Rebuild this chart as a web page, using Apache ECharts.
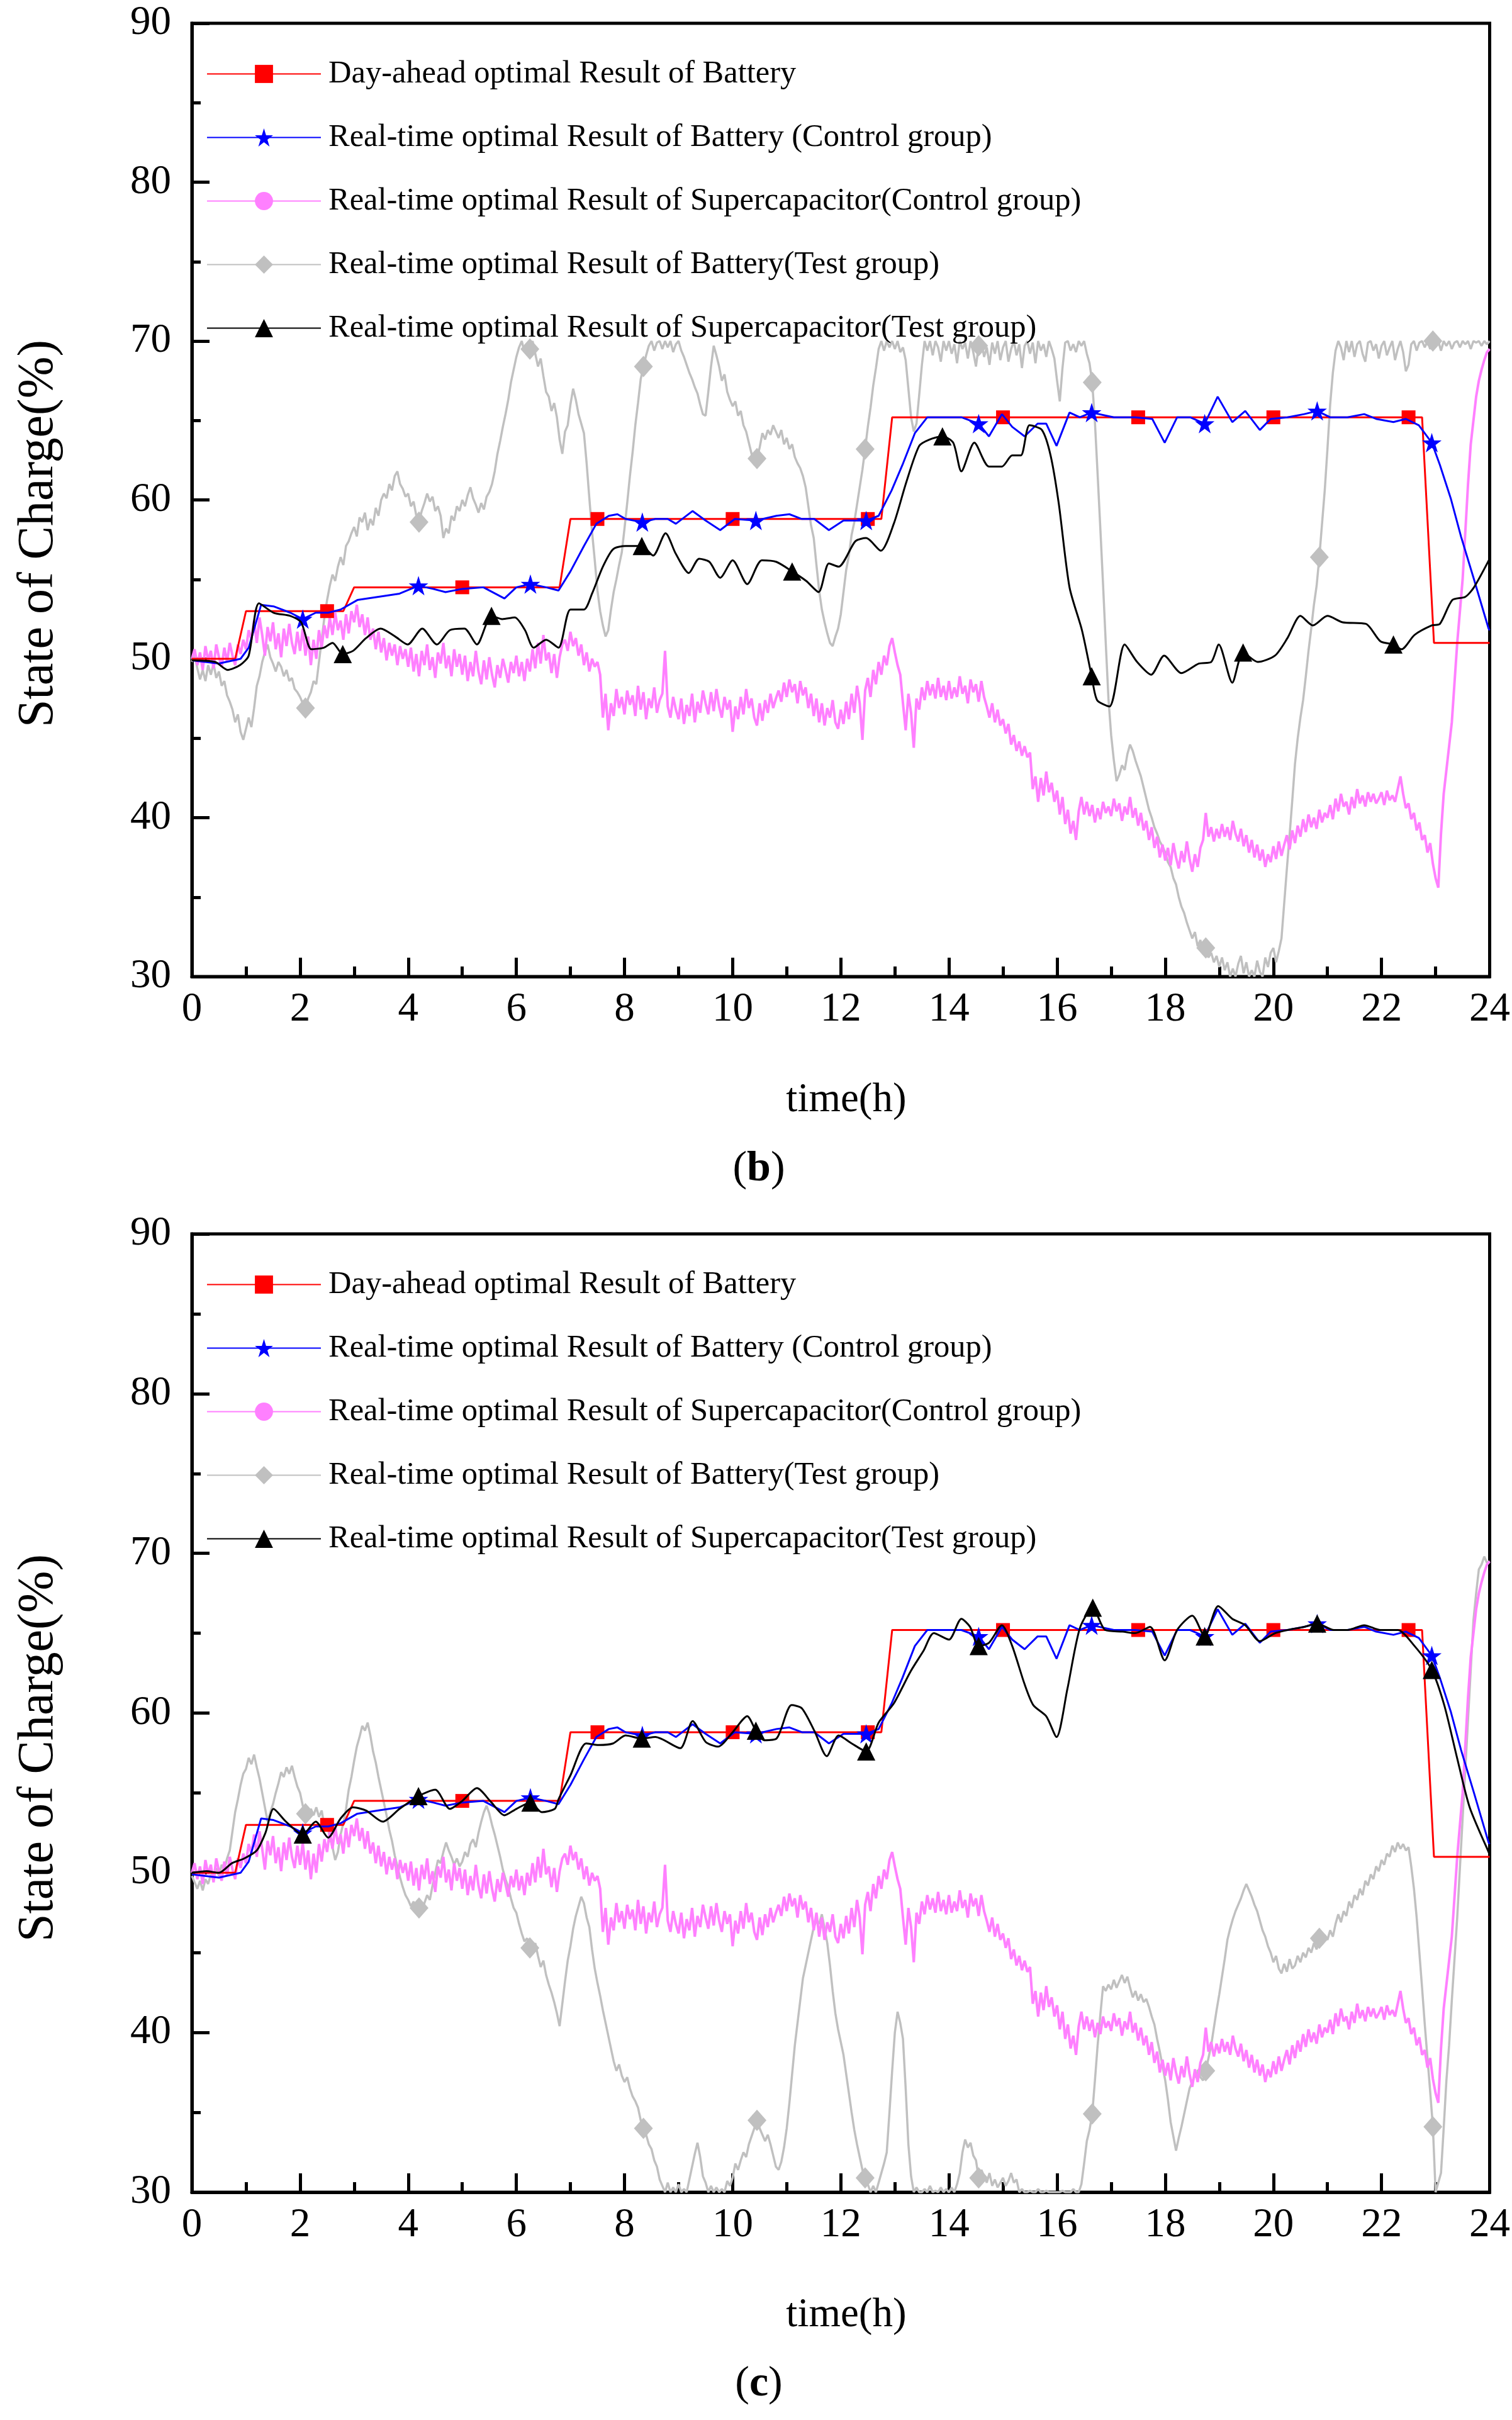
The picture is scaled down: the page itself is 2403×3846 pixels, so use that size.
<!DOCTYPE html>
<html><head><meta charset="utf-8">
<script src="https://cdn.jsdelivr.net/npm/echarts@6/dist/echarts.min.js"></script>
<style>html,body{margin:0;padding:0;background:#fff}#c{width:2403px;height:3846px}</style>
</head><body><div id="c"></div>
<script>
// ---- data ----
const STEP = 0.05; // sample step (h) of the dense series
const xTickLabels = [0,2,4,6,8,10,12,14,16,18,20,22,24];
const yTickLabels = [30,40,50,60,70,80,90];
const seriesNames = [
  'Day-ahead optimal Result of Battery',
  'Real-time optimal Result of Battery (Control group)',
  'Real-time optimal Result of Supercapacitor(Control group)',
  'Real-time optimal Result of Battery(Test group)',
  'Real-time optimal Result of Supercapacitor(Test group)'
];
const redT = [0,0.8,1.0,2.5,2.8,3.0,5,6.8,7.0,7.5,10,12.5,12.75,12.95,15,17.5,20,22.5,22.75,22.97,24];
const redV = [50,50,53,53,53,54.5,54.5,54.5,58.8,58.8,58.8,58.8,58.8,65.2,65.2,65.2,65.2,65.2,65.2,51,51];
const redMarks = [2.5,5,7.5,10,12.5,15,17.5,20,22.5];

const blueT = [0,0.5,0.9,1.05,1.28,1.51,1.82,2.05,2.29,2.52,2.75,3.06,3.45,3.84,4.19,4.46,4.69,5.0,5.39,5.78,6.0,6.26,6.55,6.78,7.0,7.25,7.48,7.71,7.87,8.02,8.33,8.57,8.8,8.95,9.26,9.5,9.77,10.04,10.43,10.81,11.05,11.28,11.51,11.78,12.05,12.47,12.7,12.94,13.14,13.37,13.6,13.84,14.23,14.55,14.74,14.98,15.17,15.4,15.64,15.8,15.99,16.23,16.42,16.64,17.05,17.44,17.76,17.99,18.22,18.46,18.73,18.97,19.24,19.48,19.75,19.95,20.26,20.57,20.81,21.05,21.37,21.68,21.9,22.22,22.45,22.69,22.93,23.08,23.28,23.47,23.71,23.98,24];
const blueV = [49.9,49.7,50.0,50.7,53.4,53.3,52.9,52.5,52.9,52.9,53.1,53.7,53.9,54.1,54.6,54.4,54.2,54.4,54.5,53.8,54.5,54.7,54.5,54.3,55.5,57.1,58.5,59.0,59.1,58.8,58.6,58.8,58.8,58.5,59.3,58.7,58.1,58.8,58.7,59.0,59.1,58.8,58.8,58.1,58.7,58.7,59.0,60.6,62.2,64.2,65.2,65.2,65.2,64.8,64.0,65.4,64.6,64.0,64.8,64.8,63.4,65.5,65.2,65.5,65.2,65.2,65.1,63.6,65.2,65.2,64.8,66.5,64.9,65.6,64.4,65.1,65.2,65.4,65.6,65.2,65.2,65.4,65.1,64.9,65.1,64.7,63.6,62.2,60.1,57.7,55.0,51.9,51.8];
const starMarks = [2.05,4.19,6.26,8.33,10.43,12.47,14.55,16.64,18.73,20.81,22.93];

const pinkV = [
50.0,50.6,49.6,50.4,49.3,50.8,49.9,50.5,49.4,50.9,50.1,49.5,50.7,49.8,51.0,50.2,49.6,50.9,50.3,51.2,
50.6,51.8,51.2,52.4,51.0,52.6,51.5,50.2,52.0,51.1,52.3,50.6,51.6,50.1,51.9,50.8,52.2,51.0,50.3,51.7,
50.5,51.9,50.2,51.4,49.6,51.2,50.0,51.8,50.7,52.1,51.3,52.6,51.5,52.9,51.8,52.4,51.2,52.8,51.6,53.0,
52.3,53.4,52.0,52.8,51.5,52.6,51.2,51.9,50.6,51.7,50.4,51.3,49.9,51.0,50.2,50.9,49.6,50.8,50.0,50.6,
49.5,50.7,49.2,50.3,48.9,50.5,49.6,50.9,49.3,50.1,48.8,50.4,49.7,51.0,49.4,50.2,48.9,50.6,49.5,50.3,
49.0,50.2,48.6,49.8,48.9,50.5,49.2,48.4,49.9,48.7,50.1,49.0,48.2,49.6,48.8,50.0,49.3,48.5,49.8,49.1,
50.2,48.9,49.8,48.6,50.0,49.2,50.6,49.4,51.0,49.7,51.5,49.9,50.4,49.1,50.3,48.8,50.1,50.9,51.2,50.5,
51.7,50.8,51.3,50.2,50.9,49.6,50.4,49.2,50.0,49.5,49.8,49.0,46.3,47.8,45.5,47.2,46.4,48.1,46.9,47.6,
46.5,48.0,47.1,47.7,46.4,48.3,46.8,47.9,46.2,47.5,46.9,48.2,46.6,47.4,47.8,50.5,47.0,46.3,47.6,46.8,
46.2,47.5,45.9,47.1,46.4,47.8,46.0,47.3,46.6,48.0,47.2,46.5,47.9,46.7,48.1,47.0,46.3,47.6,46.8,47.4,
45.4,47.0,46.2,47.6,46.5,48.1,46.9,47.5,46.3,45.8,47.2,46.1,47.4,46.6,47.8,46.9,47.5,48.0,47.3,48.5,
47.6,48.7,47.9,48.4,47.2,48.6,47.7,48.2,46.9,47.8,46.4,47.5,46.0,47.2,45.8,46.9,46.3,47.4,46.0,45.6,
46.8,45.9,47.3,46.2,47.8,46.6,48.3,47.2,44.9,48.0,48.8,47.6,49.3,48.4,49.8,49.0,50.2,49.6,50.8,51.3,
50.4,49.6,49.0,47.2,45.5,47.8,46.6,44.4,47.5,46.8,48.2,47.4,48.6,47.7,48.4,47.5,48.8,47.6,48.3,47.4,
48.6,47.5,48.2,47.6,48.9,47.8,48.3,47.2,48.7,47.9,48.4,47.3,48.6,47.6,47.0,46.3,47.2,46.0,46.8,45.8,
46.2,45.3,45.9,44.6,45.2,44.2,44.8,43.9,44.5,43.8,44.1,41.8,42.6,41.0,42.5,41.4,42.9,41.6,42.2,41.0,
41.7,40.2,41.3,39.6,40.5,39.0,39.8,38.6,40.4,41.3,40.2,41.0,40.1,40.8,39.7,40.6,39.9,41.0,40.3,40.7,
40.1,41.2,40.4,40.9,39.8,40.7,40.2,41.3,40.0,40.6,39.5,40.3,39.2,39.8,38.6,39.4,38.1,38.8,37.5,38.3,
37.3,38.1,37.0,38.4,37.5,36.8,37.9,37.2,38.5,37.4,36.6,37.7,36.9,38.1,38.6,40.3,38.8,39.4,38.5,39.3,
38.7,39.6,38.8,39.4,38.6,39.8,39.0,38.5,39.3,38.2,38.9,37.8,38.6,37.5,38.3,37.3,38.0,36.9,37.7,37.2,
38.2,37.4,38.5,37.6,38.3,38.9,38.0,39.2,38.4,39.5,38.8,39.9,39.1,40.2,39.4,40.0,39.3,40.5,39.7,40.3,
40.0,40.8,39.9,41.2,40.4,41.5,40.7,41.0,40.2,41.3,40.6,41.8,40.9,41.4,40.7,41.6,41.0,41.5,40.9,41.2,
41.6,40.8,41.7,41.1,41.4,41.0,41.8,42.6,41.5,40.6,40.9,39.9,40.3,39.2,39.7,38.6,38.9,37.8,38.4,37.1,
36.2,35.6,39.0,41.5,43.0,44.5,46.0,48.5,51.0,53.0,55.0,58.0,61.0,63.5,65.0,66.5,67.5,68.2,68.8,69.3,
69.5];

const greyBV = [
49.8,50.3,49.4,48.7,49.3,48.6,49.6,49.0,49.7,48.8,49.2,48.3,48.6,47.7,47.3,46.8,46.0,46.5,45.4,44.9,
45.6,46.3,45.7,46.9,48.3,48.9,49.8,50.4,50.9,50.1,49.7,49.2,49.8,49.5,48.9,49.3,48.6,48.8,48.1,47.9,
47.6,47.2,46.9,47.5,47.9,48.6,48.4,49.8,51.2,52.6,53.7,54.6,55.3,54.9,55.8,56.4,55.9,57.1,57.4,57.9,
58.3,57.7,58.9,58.6,59.2,58.1,58.8,58.4,59.5,59.0,60.0,60.4,60.1,61.0,60.6,61.5,61.8,61.0,60.7,60.2,
60.4,59.6,59.9,59.0,58.6,59.3,59.8,60.4,59.9,60.2,59.3,59.6,59.0,57.6,58.2,57.9,59.0,58.7,59.6,59.3,
60.0,59.6,60.3,60.8,60.1,59.7,59.2,59.8,59.4,60.2,60.5,61.0,61.8,62.9,63.7,64.6,65.4,66.3,67.4,68.2,
69.0,69.6,70.0,69.3,69.8,69.5,70.0,69.2,68.4,68.9,67.8,66.8,66.5,65.6,66.1,65.2,63.8,62.9,64.3,64.7,
66.0,67.0,66.3,65.4,64.8,64.2,62.3,60.1,58.0,56.2,54.3,53.0,52.1,51.4,51.8,53.1,54.2,55.0,55.9,56.7,
58.2,59.8,61.5,63.0,64.7,66.1,67.6,68.4,69.1,69.7,70.0,69.4,69.9,70.0,69.5,70.0,69.6,70.0,69.3,69.8,
70.0,69.4,69.0,68.5,68.0,67.6,67.1,66.7,66.0,65.4,65.3,66.8,68.4,69.7,69.1,68.4,67.5,67.9,66.8,66.3,
65.9,66.2,65.3,65.6,64.7,64.3,63.6,62.9,62.2,62.6,63.3,64.2,63.8,64.4,64.1,64.7,64.3,63.9,64.4,63.5,
63.9,63.2,63.5,62.7,62.3,62.0,61.5,60.8,59.6,58.4,57.6,55.9,54.3,53.1,52.3,51.6,51.0,50.8,51.4,51.9,
52.8,54.2,55.6,56.5,57.8,58.6,59.7,60.8,61.9,63.2,64.6,65.8,67.2,68.3,69.5,70.0,69.4,70.0,69.6,70.0,
69.5,70.0,69.3,69.6,68.8,67.0,65.2,64.3,64.8,66.6,68.5,70.0,69.4,70.0,69.1,70.0,69.6,68.7,70.0,69.4,
70.0,69.2,69.8,68.6,70.0,69.5,69.9,68.9,70.0,69.3,68.4,69.7,70.0,69.0,69.6,68.5,69.9,69.2,70.0,68.8,
69.6,70.0,68.7,69.5,70.0,69.1,69.8,68.3,69.7,70.0,69.2,69.9,68.6,70.0,69.4,69.8,69.0,70.0,69.5,68.9,
67.5,66.2,68.3,69.9,70.0,69.4,69.8,69.3,70.0,69.7,70.0,69.2,68.6,67.4,64.9,61.6,58.2,54.7,51.0,47.5,
45.2,43.6,42.3,42.7,43.3,43.0,44.0,44.6,44.2,43.6,43.1,42.6,41.9,41.2,40.5,40.0,39.4,39.0,38.5,38.2,
37.8,37.2,36.9,36.2,35.8,35.0,34.4,34.0,33.4,32.9,32.4,32.8,31.9,32.3,31.4,31.8,31.2,31.5,30.9,31.3,
30.6,31.2,30.4,30.9,30.0,30.5,30.0,30.8,31.3,30.2,30.9,30.0,30.4,30.0,31.0,30.3,30.0,31.2,30.6,31.5,
31.8,30.9,31.6,32.4,34.6,36.8,38.9,41.1,43.4,45.0,46.3,47.4,48.9,50.5,51.9,53.4,54.6,56.4,58.5,60.6,
63.2,66.0,68.0,69.4,70.0,69.6,68.8,70.0,69.3,70.0,69.0,69.8,70.0,69.2,68.7,69.9,70.0,69.4,69.8,68.9,
69.7,70.0,69.1,69.6,70.0,68.8,69.5,70.0,69.3,68.1,68.5,69.8,70.0,69.4,69.9,70.0,69.6,70.0,69.5,70.0,
69.8,70.0,69.4,70.0,69.7,70.0,69.5,69.9,70.0,69.6,70.0,69.8,70.0,69.5,70.0,69.9,70.0,69.7,70.0,69.8,
70.0];

const greyCV = [
49.8,49.4,49.0,49.5,48.9,49.6,49.3,49.9,49.5,50.3,49.8,50.5,50.2,50.9,51.4,52.6,53.8,54.6,55.5,56.2,
56.5,57.2,56.8,57.4,56.6,55.9,55.0,54.1,53.2,53.8,54.3,55.0,55.6,56.3,56.0,56.6,56.2,56.7,56.0,55.4,
55.0,54.2,53.7,53.4,54.0,53.6,54.1,53.5,53.9,52.9,53.1,52.2,51.6,50.8,51.3,52.4,53.1,54.0,55.2,56.0,
57.0,57.9,58.5,59.2,58.9,59.4,58.6,57.6,56.9,56.0,55.2,54.4,53.6,52.7,52.0,51.1,50.4,49.7,49.1,48.6,
48.3,47.9,48.2,47.6,47.8,47.5,48.1,48.6,48.3,49.2,50.0,50.8,50.6,51.3,51.9,51.4,51.0,50.5,50.9,50.4,
50.7,51.3,51.0,51.8,52.1,51.6,52.5,53.2,53.8,54.2,53.7,53.0,52.4,51.7,51.0,50.2,49.6,49.1,48.4,47.8,
47.5,46.8,46.2,45.7,45.9,45.3,45.0,45.6,44.8,44.1,44.5,43.6,43.0,42.5,41.9,41.2,40.4,41.8,43.2,44.5,
45.4,46.5,47.3,47.9,48.5,48.1,47.2,46.6,45.2,44.0,43.1,42.3,41.4,40.6,39.8,39.0,38.2,37.6,38.0,37.3,
36.9,37.2,36.5,36.0,35.7,35.3,34.5,34.0,33.6,33.0,32.7,32.0,31.6,30.8,30.4,30.0,30.6,30.0,30.3,30.0,
30.5,30.0,30.2,30.0,30.8,31.6,32.4,33.1,32.2,31.0,30.6,30.0,30.4,30.0,30.3,30.0,30.2,30.0,30.7,30.4,
30.9,31.8,31.4,32.0,32.5,32.2,33.0,33.5,34.0,34.5,34.0,33.6,33.2,33.6,33.0,32.3,31.6,31.4,31.9,32.8,
34.0,35.6,37.4,39.2,40.6,42.0,43.4,44.2,45.0,45.8,46.6,47.0,46.8,47.4,46.5,45.6,44.2,42.6,41.2,40.2,
39.4,38.6,37.4,36.2,35.0,33.9,33.0,32.2,31.4,30.9,30.5,30.0,30.4,30.0,30.6,31.2,31.8,32.5,35.0,37.6,
40.0,41.3,40.6,39.6,36.5,33.0,31.0,30.0,30.3,30.0,30.0,30.2,30.0,30.4,30.0,30.1,30.0,30.3,30.0,30.2,
30.0,30.3,30.0,30.5,31.2,32.5,33.3,32.8,33.1,32.3,32.0,30.9,31.4,31.0,30.6,31.2,30.4,30.8,30.3,30.6,
30.9,30.4,30.7,31.2,30.6,30.8,30.0,30.2,30.0,30.0,30.1,30.0,30.0,30.2,30.0,30.0,30.1,30.0,30.0,30.0,
30.0,30.0,30.1,30.0,30.0,30.0,30.2,30.0,30.0,30.5,31.8,33.2,33.9,34.9,37.0,39.2,41.1,42.9,42.6,43.0,
42.7,43.3,42.8,43.2,43.6,43.1,43.5,42.8,42.2,42.6,42.0,42.4,41.9,42.1,41.6,41.0,40.5,39.6,38.8,37.9,
37.0,35.8,34.4,33.5,32.6,33.4,34.1,34.9,35.7,36.5,36.9,37.3,37.5,37.2,37.0,37.6,38.4,39.2,40.3,41.4,
42.4,43.5,44.6,45.8,46.5,47.1,47.6,48.0,48.4,48.9,49.3,48.9,48.5,48.0,47.6,47.0,46.4,46.0,45.4,45.0,
44.4,44.8,44.0,43.7,44.3,43.8,44.6,44.0,44.2,44.8,44.4,45.0,44.7,45.3,45.0,45.6,45.2,45.9,45.5,46.1,
45.8,46.4,46.0,46.8,47.4,46.9,47.6,47.3,48.2,47.8,48.6,48.3,49.0,48.6,49.5,49.2,49.9,49.6,50.4,50.1,
50.8,50.5,51.2,51.0,51.7,51.3,51.9,51.5,51.8,51.4,51.6,50.4,49.0,47.2,45.0,42.8,40.5,38.4,36.3,34.1,
30.0,30.6,31.2,34.0,37.0,39.2,42.0,44.6,47.2,50.3,53.4,56.5,59.6,62.7,65.8,67.5,69.0,69.3,69.8,69.4,
69.5];
const diamondMarks = [2.1,4.2,6.25,8.35,10.45,12.45,14.55,16.65,18.75,20.85,22.95];

const blackBT = [0,0.43,0.66,0.89,1.05,1.24,1.51,1.82,2.02,2.21,2.44,2.6,2.79,2.98,3.22,3.49,3.76,3.99,4.26,4.53,4.77,5.04,5.27,5.54,5.74,5.97,6.16,6.32,6.55,6.78,7.0,7.25,7.4,7.6,7.79,8.02,8.32,8.53,8.76,8.95,9.19,9.38,9.57,9.77,10.0,10.27,10.54,10.81,11.1,11.36,11.59,11.78,11.96,12.27,12.47,12.74,12.98,13.21,13.45,13.64,13.88,14.08,14.23,14.47,14.74,14.98,15.17,15.33,15.49,15.72,15.88,16.03,16.23,16.46,16.64,16.74,16.97,17.25,17.48,17.74,17.98,18.3,18.62,18.85,18.99,19.24,19.44,19.71,20.03,20.26,20.5,20.73,21.0,21.28,21.71,21.98,22.22,22.37,22.61,22.93,23.08,23.31,23.55,23.71,24.0];
const blackBV = [49.9,49.8,49.3,49.6,50.2,53.5,52.9,52.7,52.3,50.6,50.7,51.0,50.3,50.5,51.3,51.9,51.4,50.9,51.9,50.9,51.8,51.9,50.9,52.7,52.5,52.6,51.8,50.7,51.2,50.7,53.1,53.1,54.1,55.8,56.9,57.1,57.1,56.5,57.9,56.6,55.4,56.3,56.1,55.1,56.2,54.7,56.2,56.1,55.5,54.9,54.2,56.0,55.8,57.4,57.6,56.8,58.5,61.1,63.4,63.8,64.0,63.6,61.8,63.6,62.1,62.1,62.8,62.8,64.7,64.4,62.8,59.8,54.5,51.8,48.9,47.4,47.0,50.9,49.8,49.0,50.2,49.1,49.7,49.8,50.9,48.5,50.4,49.8,50.2,51.3,52.7,52.1,52.7,52.3,52.2,51.1,50.9,50.6,51.5,52.1,52.2,53.7,53.9,54.5,56.3];
const triMarksB = [2.79,5.54,8.32,11.1,13.88,16.64,19.44,22.22];

const blackCT = [0,0.27,0.5,0.74,0.97,1.2,1.36,1.51,1.74,2.05,2.29,2.52,2.75,2.98,3.22,3.53,3.84,4.19,4.5,4.77,5.0,5.27,5.54,5.78,6.0,6.26,6.47,6.71,6.78,7.0,7.29,7.52,7.79,8.02,8.32,8.57,9.03,9.26,9.5,9.73,10.0,10.27,10.43,10.58,10.81,11.09,11.28,11.51,11.74,11.96,12.2,12.47,12.7,12.98,13.29,13.53,13.72,14.0,14.23,14.39,14.55,14.74,14.98,15.17,15.4,15.56,15.8,15.99,16.19,16.42,16.66,16.89,17.21,17.44,17.72,17.99,18.22,18.5,18.73,18.98,19.24,19.48,19.75,20.03,20.26,20.57,20.81,21.12,21.37,21.68,21.98,22.3,22.61,22.93,23.16,23.39,23.63,23.98,24];
const blackCV = [50.0,50.1,50.0,50.6,50.9,51.4,52.5,54.0,53.2,52.4,53.2,52.2,53.4,54.1,53.9,53.2,54.0,54.8,55.2,54.0,54.5,55.3,54.4,53.6,54.0,54.4,53.8,54.0,54.6,56.1,58.1,58.0,58.1,58.6,58.4,58.5,57.8,59.5,58.2,57.9,58.8,59.8,58.9,58.3,58.4,60.5,60.3,58.9,57.3,58.6,58.1,57.6,59.4,60.6,62.6,63.9,65.0,64.6,65.9,65.4,64.2,64.4,65.5,64.2,61.8,60.5,59.8,58.5,61.5,65.3,66.6,65.2,65.1,65.0,65.4,63.3,65.2,66.1,64.8,66.7,65.9,65.5,64.5,65.0,65.2,65.4,65.6,65.2,65.2,65.5,65.2,65.2,64.2,62.7,60.5,57.3,54.1,51.3,51.2];
const triMarksC = [2.05,4.19,6.26,8.32,10.43,12.47,14.55,16.66,18.73,20.81,22.93];

// ---- build ----
const FONT = 'Liberation Serif';
const STAR = 'path://M50 0 L61.8 36.2 L100 36.2 L69.1 58.8 L80.9 95.1 L50 72.7 L19.1 95.1 L30.9 58.8 L0 36.2 L38.2 36.2 Z';
const denseT = arr => arr.map((_, i) => +(i * STEP).toFixed(2));
function build(ts, vs, marks) {
  const used = new Set();
  marks.forEach(m => {
    let bi = 0, bd = 1e9;
    ts.forEach((t, i) => { const d = Math.abs(t - m); if (d < bd) { bd = d; bi = i; } });
    used.add(bi);
  });
  return ts.map((t, i) => used.has(i) ? { value: [t, vs[i]] } : { value: [t, vs[i]], symbol: 'none' });
}
function line(name, data, color, symbol, size, gi, z, width, smooth) {
  return {
    name, type: 'line', xAxisIndex: gi, yAxisIndex: gi, data, symbol, symbolSize: size,
    showSymbol: true, showAllSymbol: true, smooth: smooth || false, z,
    lineStyle: { color, width }, itemStyle: { color }, animation: false,
    emphasis: { disabled: true }
  };
}
const pinkT = denseT(pinkV), greyBT = denseT(greyBV), greyCT = denseT(greyCV);

const grids = [
  { left: 305, top: 37, width: 2063, height: 1515 },
  { left: 305, top: 1961, width: 2063, height: 1523 }
];
function xAxis(gi) {
  return {
    type: 'value', gridIndex: gi, min: 0, max: 24, interval: 2,
    axisLine: { show: true, lineStyle: { color: '#000', width: 5 } },
    axisTick: { show: true, inside: true, length: 30, lineStyle: { color: '#000', width: 5 } },
    minorTick: { show: true, splitNumber: 2, length: 16, lineStyle: { color: '#000', width: 5 } },
    splitLine: { show: false }, minorSplitLine: { show: false },
    axisLabel: { fontFamily: FONT, fontSize: 65, color: '#000', margin: 20,
      formatter: v => xTickLabels.includes(v) ? String(v) : '' }
  };
}
function yAxis(gi) {
  return {
    type: 'value', gridIndex: gi, min: 30, max: 90, interval: 10,
    axisLine: { show: true, lineStyle: { color: '#000', width: 5 } },
    axisTick: { show: true, inside: true, length: 28, lineStyle: { color: '#000', width: 5 } },
    minorTick: { show: true, splitNumber: 2, length: 14, lineStyle: { color: '#000', width: 5 } },
    splitLine: { show: false }, minorSplitLine: { show: false },
    axisLabel: { fontFamily: FONT, fontSize: 65, color: '#000', margin: 33,
      formatter: v => yTickLabels.includes(v) ? String(v) : '' }
  };
}
function legend(top) {
  return {
    left: 328, top, orient: 'vertical', itemWidth: 181, itemHeight: 36, itemGap: 50,
    selectedMode: false, padding: 0,
    textStyle: { fontFamily: FONT, fontSize: 50.5, lineHeight: 50, color: '#000', padding: [0, 0, 0, 7] },
    data: seriesNames
  };
}
const series = [];
[0, 1].forEach(gi => {
  const greyT = gi === 0 ? greyBT : greyCT, greyV = gi === 0 ? greyBV : greyCV;
  const bT = gi === 0 ? blackBT : blackCT, bV = gi === 0 ? blackBV : blackCV;
  const tri = gi === 0 ? triMarksB : triMarksC;
  series.push(line(seriesNames[0], build(redT, redV, redMarks), '#FF0000', 'rect', 22, gi, 4, 3));
  series.push(line(seriesNames[1], build(blueT, blueV, starMarks), '#0000FF', STAR, 31, gi, 5, 3));
  series.push(line(seriesNames[2], build(pinkT, pinkV, []), '#FF80FF', 'circle', 25, gi, 3, 4));
  series.push(line(seriesNames[3], build(greyT, greyV, diamondMarks), '#C0C0C0', 'diamond', [30, 34], gi, 2, 3.5));
  series.push(line(seriesNames[4], build(bT, bV, tri), '#000000', 'triangle', 29, gi, 6, 3, 0.25));
});
function txt(x, y, text, size, rot, rich) {
  const e = { type: 'text', x, y, z: 100, style: { text, fontFamily: FONT, fontSize: size, fill: '#000',
    textAlign: 'center', textVerticalAlign: 'middle' } };
  if (rot) e.rotation = rot;
  if (rich) e.style.rich = rich;
  return e;
}
const boldRich = { b: { fontFamily: FONT, fontSize: 68, fontWeight: 'bold', fill: '#000' } };
const chart = echarts.init(document.getElementById('c'), null, { renderer: 'canvas' });
chart.setOption({
  backgroundColor: '#fff',
  animation: false,
  grid: grids.map(g => Object.assign({ show: true, borderColor: '#000', borderWidth: 5, backgroundColor: 'transparent', containLabel: false }, g)),
  xAxis: [xAxis(0), xAxis(1)],
  yAxis: [yAxis(0), yAxis(1)],
  legend: [legend(92), legend(2016)],
  series,
  graphic: [
    txt(1345, 1749, 'time(h)', 65),
    txt(1345, 3680, 'time(h)', 65),
    txt(62, 848, 'State of Charge(%)', 80, Math.PI / 2),
    txt(62, 2778, 'State of Charge(%)', 80, Math.PI / 2),
    txt(1206, 1858, '({b|b})', 68, 0, boldRich),
    txt(1206, 3789, '({b|c})', 68, 0, boldRich)
  ]
});
</script></body></html>
